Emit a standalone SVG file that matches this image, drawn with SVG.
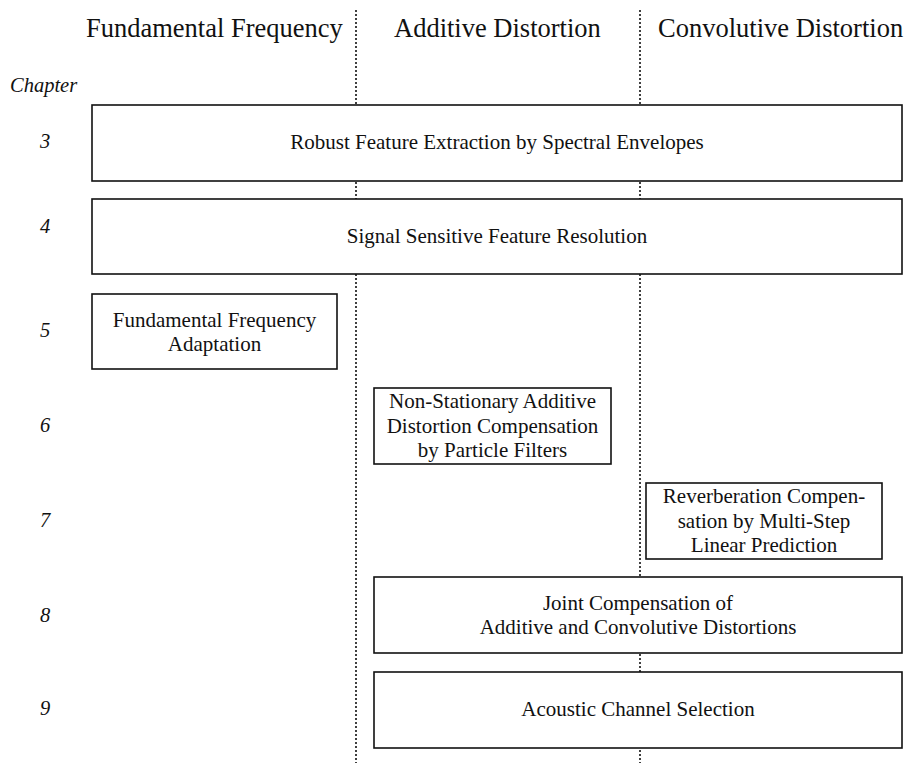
<svg xmlns="http://www.w3.org/2000/svg" width="905" height="765" viewBox="0 0 905 765">
  <style>
    .head { font-family: "Liberation Serif", "Times New Roman", serif; font-size: 26.5px; fill: #111; }
    .num { font-family: "Liberation Serif", "Times New Roman", serif; font-size: 20.5px; font-style: italic; fill: #111; }
    .lbl { font-family: "Liberation Serif", "Times New Roman", serif; font-size: 21px; fill: #111; text-anchor: middle; }
    .box { fill: #fff; stroke: #111; stroke-width: 1.6; }
    .div { stroke: #111; stroke-width: 1.6; stroke-dasharray: 2 2; fill: none; }
  </style>
  <rect width="905" height="765" fill="#fff"/>

  <!-- column dividers -->
  <g id="dividers">
    <line class="div" x1="356" y1="10" x2="356" y2="763"/>
    <line class="div" x1="640" y1="10" x2="640" y2="763"/>
  </g>

  <!-- column headings -->
  <g id="headings">
    <text class="head" x="86" y="37">Fundamental Frequency</text>
    <text class="head" x="394" y="37">Additive Distortion</text>
    <text class="head" x="658" y="37">Convolutive Distortion</text>
  </g>

  <!-- chapter numbers -->
  <g id="chapters">
    <text class="num" x="10" y="92">Chapter</text>
    <text class="num" x="40" y="148">3</text>
    <text class="num" x="40" y="233">4</text>
    <text class="num" x="40" y="337">5</text>
    <text class="num" x="40" y="432">6</text>
    <text class="num" x="40" y="527">7</text>
    <text class="num" x="40" y="622">8</text>
    <text class="num" x="40" y="715">9</text>
  </g>

  <g id="ch3">
    <rect class="box" x="92" y="105" width="810" height="76"/>
    <text class="lbl" x="497" y="149">Robust Feature Extraction by Spectral Envelopes</text>
  </g>
  <g id="ch4">
    <rect class="box" x="92" y="199" width="810" height="75"/>
    <text class="lbl" x="497" y="243">Signal Sensitive Feature Resolution</text>
  </g>
  <g id="ch5">
    <rect class="box" x="92" y="294" width="245" height="75"/>
    <text class="lbl" x="214.5" y="327">Fundamental Frequency</text>
    <text class="lbl" x="214.5" y="351">Adaptation</text>
  </g>
  <g id="ch6">
    <rect class="box" x="374" y="388" width="237" height="76"/>
    <text class="lbl" x="492.5" y="408">Non-Stationary Additive</text>
    <text class="lbl" x="492.5" y="432.5">Distortion Compensation</text>
    <text class="lbl" x="492.5" y="457">by Particle Filters</text>
  </g>
  <g id="ch7">
    <rect class="box" x="646" y="483" width="236" height="76"/>
    <text class="lbl" x="764" y="503">Reverberation Compen-</text>
    <text class="lbl" x="764" y="527.5">sation by Multi-Step</text>
    <text class="lbl" x="764" y="552">Linear Prediction</text>
  </g>
  <g id="ch8">
    <rect class="box" x="374" y="577" width="528" height="76"/>
    <text class="lbl" x="638" y="610">Joint Compensation of</text>
    <text class="lbl" x="638" y="634">Additive and Convolutive Distortions</text>
  </g>
  <g id="ch9">
    <rect class="box" x="374" y="672" width="528" height="76"/>
    <text class="lbl" x="638" y="716">Acoustic Channel Selection</text>
  </g>
</svg>
